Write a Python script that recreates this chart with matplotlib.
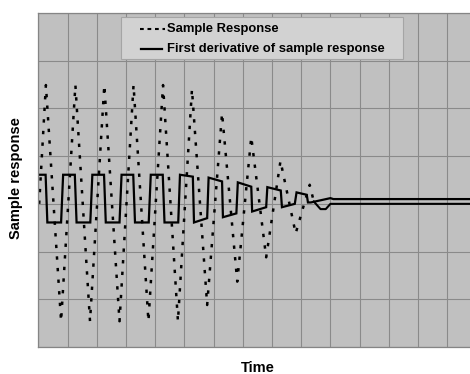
import matplotlib
matplotlib.use("Agg")
import matplotlib.pyplot as plt
from matplotlib.patches import Rectangle
from matplotlib.lines import Line2D

# sample response (triangle-like oscillation that dies out), time in grid units
response_t = [0.03, 0.26, 0.78, 1.27, 1.77, 2.26, 2.78, 3.26, 3.77, 4.27, 4.78,
              5.26, 5.78, 6.29, 6.81, 7.29, 7.80, 8.29, 8.81, 9.29,
              9.43, 9.66, 9.84, 10.0, 15.0]
response_y = [0.0, 2.49, -2.46, 2.49, -2.46, 2.49, -2.46, 2.49, -2.46, 2.49, -2.46,
              2.40, -2.12, 1.90, -1.63, 1.40, -1.12, 0.90, -0.62, 0.40,
              0.05, -0.11, -0.11, 0.0, 0.0]
settle_index = 20  # from here on the line reads as solid in the original

# first derivative (square-ish wave)
deriv_t = [0.06, 0.25, 0.31, 0.78, 0.85, 1.25, 1.31, 1.78, 1.85, 2.25, 2.31,
           2.78, 2.85, 3.25, 3.31, 3.78, 3.85, 4.26, 4.32, 4.79, 4.85,
           5.29, 5.33, 5.78, 5.83, 6.29, 6.32, 6.78, 6.83, 7.29, 7.32,
           7.80, 7.84, 8.30, 8.34, 8.78, 8.84, 9.19, 9.23, 9.33, 10.0, 10.1, 15.0]
deriv_y = [0.61, 0.61, -0.39, -0.39, 0.61, 0.61, -0.39, -0.39, 0.61, 0.61, -0.39,
           -0.39, 0.61, 0.61, -0.39, -0.39, 0.61, 0.61, -0.39, -0.39, 0.61,
           0.57, -0.39, -0.30, 0.55, 0.47, -0.28, -0.20, 0.45, 0.36, -0.16,
           -0.07, 0.35, 0.28, -0.07, 0.0, 0.24, 0.19, 0.03, 0.03, 0.12, 0.10, 0.10]

labels = ["Sample Response", "First derivative of sample response"]

W, H = 470, 374
plt.rcParams["font.family"] = ["Liberation Sans", "DejaVu Sans"]
plt.rcParams["font.weight"] = "bold"

fig = plt.figure(figsize=(W / 100, H / 100), dpi=100)
ax = fig.add_axes([38.3 / W, (H - 347) / H, (476.5 - 38.3) / W, (347 - 13) / H])
ax.set_facecolor("#c0c0c0")
ax.set_xlim(0, 15)
ax.set_ylim(-3, 4)
ax.set_xticks(range(0, 16))
ax.set_yticks(range(-3, 5))
ax.grid(True, color="#8a8a8a", lw=0.8)
ax.set_axisbelow(True)
ax.tick_params(length=0, labelbottom=False, labelleft=False)
for s in ax.spines.values():
    s.set_color("#858585")
    s.set_linewidth(0.9)

dash = (0, (1.35, 3.3))
ax.plot(response_t[:settle_index + 1], response_y[:settle_index + 1],
        color="black", lw=1.8, ls=dash)
ax.plot(response_t[settle_index:], response_y[settle_index:], color="black", lw=1.5)
ax.plot(deriv_t, deriv_y, color="black", lw=1.6, solid_joinstyle="miter")

# legend box drawn in pixel positions like the original
def fx(x):
    return x / W

def fy(y):
    return 1 - y / H

fig.patches.append(Rectangle((fx(121), fy(59)), 282 / W, 42 / H, transform=fig.transFigure,
                             facecolor="#d2d2d2", edgecolor="#a5a5a5", lw=0.8, zorder=5))
fig.lines.append(Line2D([fx(140), fx(165)], [fy(29.3), fy(29.3)], transform=fig.transFigure,
                        color="black", lw=1.5, ls=(0, (1.8, 1.8)), zorder=6))
fig.lines.append(Line2D([fx(141), fx(162)], [fy(49.3), fy(49.3)], transform=fig.transFigure,
                        color="black", lw=1.6, zorder=6))
fig.text(fx(167), fy(29.3), labels[0], fontsize=9.4, fontweight="bold", va="center", zorder=7)
fig.text(fx(167), fy(49.3), labels[1], fontsize=9.4, fontweight="bold", va="center", zorder=7)

fig.text(fx(258), fy(372.5), "Time", fontsize=10.5, fontweight="bold", ha="center", va="baseline")
fig.text(fx(16.5), fy(178.3), "Sample response", fontsize=10.5, fontweight="bold",
         rotation=90, ha="center", va="center")

fig.savefig("out.png", dpi=100, facecolor="white")
